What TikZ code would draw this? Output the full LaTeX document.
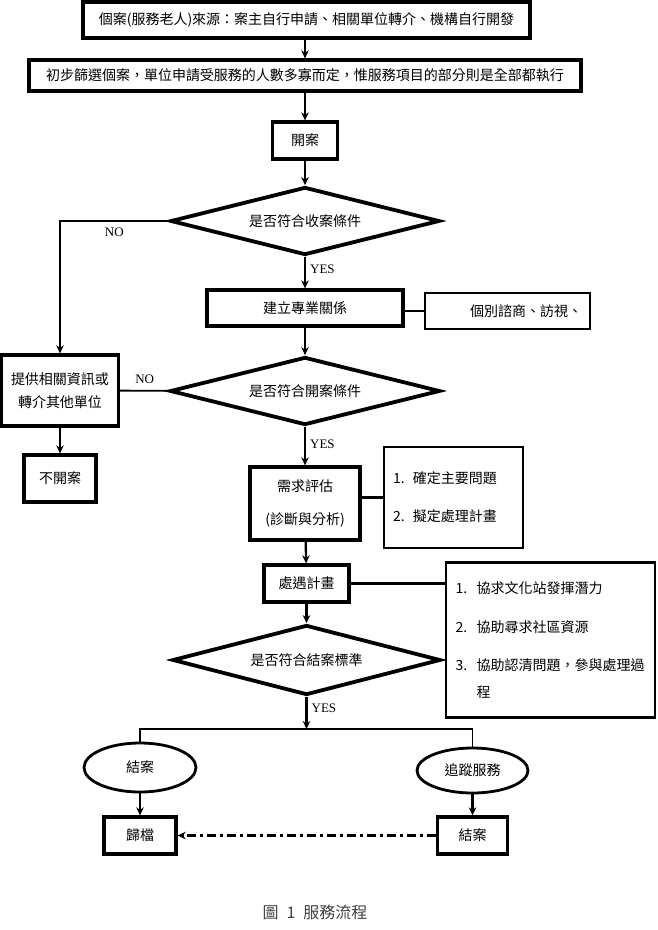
\documentclass[tikz,border=0pt]{standalone}
\usepackage{fontspec}
\setmainfont{Noto Sans CJK TC}
\newfontfamily\yesno{Liberation Serif}
\usetikzlibrary{positioning,shapes.geometric,arrows.meta}

\begin{document}
\begin{tikzpicture}[x=1pt,y=-1pt,
	every node/.style={font=\fontsize{14}{20}\selectfont,inner sep=0pt},
	box/.style={draw,line width=3.3pt},
	thinbox/.style={draw,line width=2.7pt},
	decide/.style={draw,diamond,aspect=4,line width=3.8pt},
	oval/.style={draw,ellipse,line width=2.8pt},
	flow/.style={line width=2.3pt,-{Stealth[length=8pt,width=7.5pt]}},
	branch/.style={line width=1.8pt},
	tag/.style={font=\yesno\fontsize{13}{15}\selectfont}]
		\useasboundingbox (0,0) rectangle (657,930);
		\node[box,minimum width=447,minimum height=36] (src) at (306.5,20) {個案(服務老人)來源：案主自行申請、相關單位轉介、機構自行開發};
		\node[box,minimum width=552,minimum height=31] (screen) at (305,75.5) {初步篩選個案，單位申請受服務的人數多寡而定，惟服務項目的部分則是全部都執行};
		\node[box,minimum width=65,minimum height=37] (open) at (305,140.5) {開案};
		\node[decide,minimum width=269,minimum height=68] (cond1) at (305,221) {是否符合收案條件};
		\node[box,minimum width=196,minimum height=36] (rel) at (305,308) {建立專業關係};
		\node[thinbox,minimum height=36,text width=149,inner xsep=8,align=right] (visit) at (507.5,311) {個別諮商、訪視、};
		\node[decide,minimum width=270,minimum height=68] (cond2) at (305,391) {是否符合開案條件};
		\node[box,minimum width=117,minimum height=71,align=center,font=\fontsize{14}{23}\selectfont] (refer) at (60,390.5) {提供相關資訊或\\轉介其他單位};
		\node[box,minimum width=72,minimum height=47] (noopen) at (60,478.5) {不開案};
		\node[box,minimum width=110,minimum height=73,align=center,font=\fontsize{14}{33}\selectfont] (assess) at (305,503.5) {需求評估\\(診斷與分析)};
		\node[thinbox,minimum height=101,text width=121,inner xsep=9,align=left,font=\fontsize{14}{38}\selectfont] (goals) at (453.5,497.5) {\makebox[20pt][l]{1.}確定主要問題\\\makebox[20pt][l]{2.}擬定處理計畫};
		\node[box,minimum width=85,minimum height=37] (plan) at (306.5,583.5) {處遇計畫};
		\node[thinbox,minimum height=155,text width=190,inner xsep=9.5,align=left,font=\fontsize{14}{27}\selectfont] (help) at (550.5,640) {\makebox[21pt][l]{1.}協求文化站發揮潛力\\[12pt]\makebox[21pt][l]{2.}協助尋求社區資源\\[11pt]\makebox[21pt][l]{3.}協助認清問題，參與處理過\\\makebox[21pt][l]{}程};
		\node[decide,minimum width=268,minimum height=70] (cond3) at (306.5,660) {是否符合結案標準};
		\coordinate (split) at (306.5,729);
		\node[oval,minimum width=112,minimum height=49] (close1) at (140,767.5) {結案};
		\node[oval,minimum width=111,minimum height=45] (track) at (472.5,770.5) {追蹤服務};
		\node[box,minimum width=72,minimum height=37] (archive) at (140,835.5) {歸檔};
		\node[box,minimum width=70,minimum height=37] (close2) at (472.5,835.5) {結案};
		\node[font=\fontsize{16}{20}\selectfont,text=black!75] (caption) at (315,912) {圖\hspace{8pt}1\hspace{8pt}服務流程};
		\draw[flow] (src.south -| screen) -- (screen);
		\draw[flow] (screen) -- (open);
		\draw[flow] (open) -- (cond1);
		\draw[flow] (cond1) -- node[tag,right=4pt,pos=0.38] (yes1) {YES} (rel);
		\draw[flow] (cond1) -| node[tag,below=6pt,pos=0.25] (no1) {NO} (refer);
		\draw[branch] (rel.east |- visit) -- (visit);
		\draw[flow] (rel) -- (cond2);
		\draw[branch] (cond2) -- node[tag,above=6pt] (no2) {NO} (refer);
		\draw[flow] (refer) -- (noopen);
		\draw[flow] (cond2) -- node[tag,right=4pt,pos=0.45] (yes2) {YES} (assess);
		\draw[line width=2.7pt] (assess.east |- goals) -- (goals);
		\draw[line width=2.2pt] (plan) -- (plan -| help.west);
		\draw[flow] (assess) -- (plan);
		\draw[flow] (plan) -- (cond3);
		\draw[flow] (cond3) -- node[tag,right=4pt,pos=0.35] (yes3) {YES} (split);
		\draw[line width=1.3pt] (close1) |- (split) -| (track);
		\draw[flow] (close1) -- (archive);
		\draw[flow] (track) -- (close2);
		\draw[flow,line width=2.4pt,dash pattern=on 9pt off 4pt on 3pt off 4pt] (close2) -- (archive);
	\end{tikzpicture}
\end{document}
